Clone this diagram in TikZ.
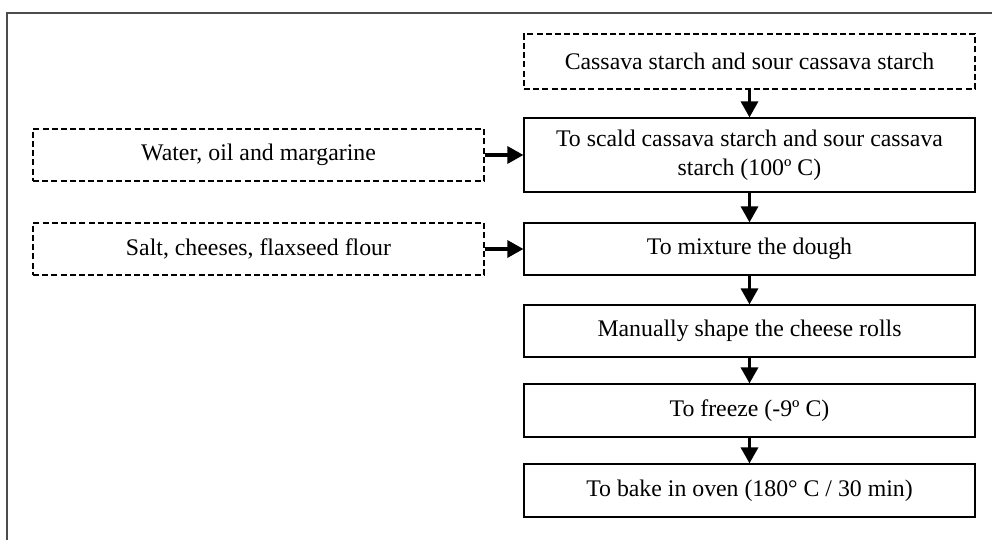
\documentclass[tikz,border=0pt]{standalone}
\usepackage{fontspec}
\setmainfont{Liberation Serif}
\usepackage{tikz}
\usetikzlibrary{positioning,arrows.meta}

\begin{document}
\begin{tikzpicture}[
  x=0.5pt, y=-0.5pt,
  box/.style={rectangle, draw, line width=0.6pt, minimum width=225.5pt,
              minimum height=26pt, align=center, inner sep=2pt,
              font=\fontsize{11.9}{14.5}\selectfont},
  dbox/.style={box, line width=1pt, dash pattern=on 3pt off 1.6pt},
  arrow/.style={-{Triangle[width=8.5pt,length=8pt]}, line width=1.6pt},
  frame/.style={draw=black!70, line width=1pt}
]
\useasboundingbox (0,0) rectangle (992,540);

% Frame
\draw[frame] (992,13) -| (7,540);

% Main column
\node[dbox, minimum height=27.5pt] (raw) at (749.5,61.5) {Cassava starch and sour cassava starch};
\node[box, minimum height=37pt] (scald) at (749.5,155) {To scald cassava starch and sour cassava\\starch (100º C)};
\node[box] (mixing) at (749.5,249) {To mixture the dough};
\node[box] (shaping) at (749.5,331) {Manually shape the cheese rolls};
\node[box, minimum height=26.5pt] (freezing) at (749.5,410.5) {To freeze (-9º C)};
\node[box, minimum height=26.5pt] (baking) at (749.5,490.5) {To bake in oven (180° C / 30 min)};

% Ingredients
\node[dbox] (liquids) at (258.5,155) {Water, oil and margarine};
\node[dbox] (extras) at (258.5,249) {Salt, cheeses, flaxseed flour};

% Arrows
\draw[arrow] (raw) -- (scald);
\draw[arrow] (scald) -- (mixing);
\draw[arrow] (mixing) -- (shaping);
\draw[arrow] (shaping) -- (freezing);
\draw[arrow] (freezing) -- (baking);
\draw[arrow] (liquids) -- (scald);
\draw[arrow] (extras) -- (mixing);

\end{tikzpicture}
\end{document}
